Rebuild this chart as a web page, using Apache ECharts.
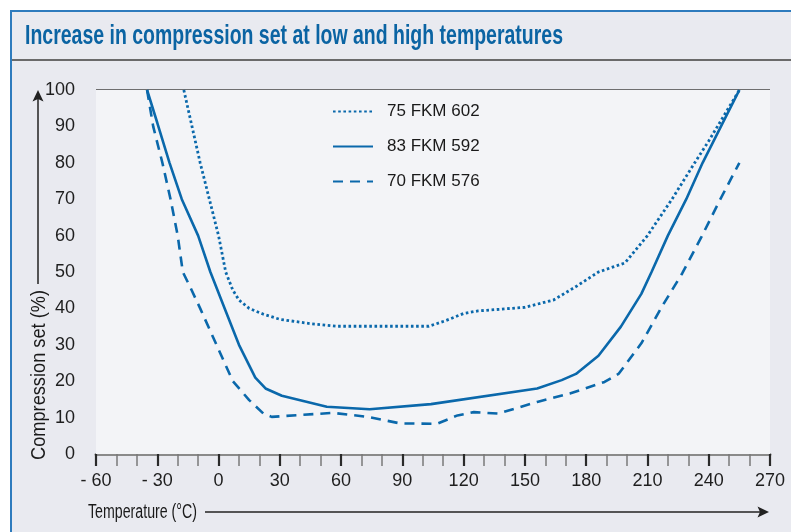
<!DOCTYPE html>
<html>
<head>
<meta charset="utf-8">
<script src="https://cdn.jsdelivr.net/npm/echarts@6/dist/echarts.min.js"></script>
<style>
@font-face { font-family: 'NarrowX'; font-weight: 400;
  src: local('Liberation Sans Narrow'), local('LiberationSansNarrow-Regular'), local('DejaVu Sans Condensed'), local('DejaVuSansCondensed'), local('Open Sans Condensed'), local('Roboto Condensed'); }
@font-face { font-family: 'NarrowX'; font-weight: 700;
  src: local('Liberation Sans Narrow Bold'), local('LiberationSansNarrow-Bold'), local('DejaVu Sans Condensed Bold'), local('DejaVuSansCondensed-Bold'); }
html,body{margin:0;padding:0;background:#fff;}
#c{width:791px;height:532px;}
</style>
</head>
<body>
<div id="c"></div>
<script>
// ---- data ----
const seriesNames = ['75 FKM 602', '83 FKM 592', '70 FKM 576'];
const fkm602 = [[-17,100],[-13,90],[-9,80],[-4.5,70],[0,60],[3.5,50],[7,45],[10,42.3],[15,40],[22,38.4],[30,37],[45,35.8],[58,35.1],[103,35.1],[111,36.6],[120,38.6],[127,39.3],[150,40.3],[164,42.3],[175,46],[186,50],[199,52.5],[210,60],[222,70],[232,79],[240,86],[255,100]];
const fkm592 = [[-35,100],[-30,91],[-24,80],[-18,70],[-10,60],[-4,50],[3,40],[10,30],[18,21],[23,18],[31,16],[53,13],[74,12.3],[104,13.7],[156,18],[168,20.3],[175,22],[186,27],[197,35],[207,44],[212,50],[220,60],[229,70],[237,80],[246,90],[255,100]];
const fkm576 = [[-35,100],[-32,90],[-27.5,80],[-23.5,70],[-20,60],[-17.5,50],[-14,46],[-9,40],[-1,30],[7,20],[15,14.8],[22,11.1],[26,10.2],[56,11.3],[73,10.2],[89,8.4],[107,8.3],[117,10.6],[125,11.5],[137,11.1],[156,14.3],[172,16.6],[189,19.8],[196,22.1],[207,30.4],[217,40.4],[227,49.6],[236.5,59.7],[245.5,69.8],[255,80]];
const xTicks = { min: -60, max: 270, step: 30 };
const yTicks = { min: 0, max: 100, step: 10 };
const titleText = 'Increase in compression set at low and high temperatures';
const xName = 'Temperature (°C)';
const yName = 'Compression set (%)';

function draw() {
  const cv = document.createElement('canvas').getContext('2d');
  function measure(text, font) { cv.font = font; return cv.measureText(text).width; }
  const narrowOK = measure('1000000000', "20px NarrowX, monospace") < measure('1000000000', "20px 'Liberation Sans'") * 0.92;
  const NARROW = narrowOK ? "NarrowX, 'Liberation Sans', sans-serif" : "'Liberation Sans', sans-serif";
  const labelSize = narrowOK ? 20 : 18;
  const BLUE = '#0a68ab';

  const titleFont = "bold 28px " + NARROW;
  const titleScale = 538 / measure(titleText, titleFont);
  const yNameFont = "20px " + NARROW;
  const yNameScale = 170 / measure(yName, yNameFont);
  const xNameFont = "20px " + NARROW;
  const xNameScale = 109 / measure(xName, xNameFont);

  const chart = echarts.init(document.getElementById('c'), null, { renderer: 'canvas' });
  const lineBase = { type: 'line', symbol: 'none', showSymbol: false, smooth: false, color: BLUE, z: 5 };
  chart.setOption({
    backgroundColor: '#ffffff',
    animation: false,
    grid: { left: 96, right: 21, top: 90, bottom: 78, show: true, backgroundColor: '#f3f4f7', borderWidth: 0, z: 1 },
    legend: {
      orient: 'vertical', left: 332, top: 103, itemWidth: 40, itemHeight: 14, itemGap: 18, padding: 0,
      itemStyle: { opacity: 0 },
      textStyle: { fontFamily: NARROW, fontSize: labelSize - 1, color: '#1a1a1a', padding: [0, 0, 0, 9] },
      data: seriesNames
    },
    xAxis: {
      type: 'value', min: xTicks.min, max: xTicks.max, interval: xTicks.step,
      axisLine: { show: true, lineStyle: { color: '#8a8a8a', width: 3 } },
      axisTick: { show: true, length: 12, lineStyle: { color: '#2a2a2a', width: 2.2 } },
      minorTick: { show: true, splitNumber: 3, length: 12, lineStyle: { color: '#7a7a7a', width: 1.5 } },
      splitLine: { show: false },
      axisLabel: {
        margin: 18, fontFamily: NARROW, fontSize: labelSize, color: '#1e1e1e',
        formatter: v => v < 0 ? '- ' + Math.abs(v) : String(v)
      }
    },
    yAxis: {
      type: 'value', min: yTicks.min, max: yTicks.max, interval: yTicks.step,
      axisLine: { show: false }, axisTick: { show: false },
      splitLine: { show: true, lineStyle: { color: '#454545', width: 1.5 } },
      axisLabel: { margin: 21, fontFamily: NARROW, fontSize: labelSize, color: '#1e1e1e' }
    },
    series: [
      Object.assign({}, lineBase, { name: seriesNames[0], data: fkm602, lineStyle: { width: 2.8, type: [2.6, 2.6], cap: 'butt' } }),
      Object.assign({}, lineBase, { name: seriesNames[1], data: fkm592, lineStyle: { width: 2.6, type: 'solid' } }),
      Object.assign({}, lineBase, { name: seriesNames[2], data: fkm576, lineStyle: { width: 2.6, type: [10, 7] } })
    ],
    graphic: [
      { type: 'rect', z: -10, silent: true, shape: { x: 11, y: 11, width: 800, height: 540 },
        style: { fill: '#e9eaf0', stroke: '#2e7bbd', lineWidth: 2 } },
      { type: 'line', z: 10, silent: true, shape: { x1: 12, y1: 60, x2: 791, y2: 60 },
        style: { stroke: '#6a6a6a', lineWidth: 2.2 } },
      { type: 'text', z: 10, silent: true, x: 25, y: 36, scaleX: titleScale,
        style: { text: titleText, font: titleFont, fill: '#0b64a3', align: 'left', verticalAlign: 'middle' } },
      { type: 'text', z: 10, silent: true, x: 39, y: 460, rotation: Math.PI / 2, scaleX: yNameScale,
        style: { text: yName, font: yNameFont, fill: '#1a1a1a', align: 'left', verticalAlign: 'middle' } },
      { type: 'line', z: 10, silent: true, shape: { x1: 38, y1: 284, x2: 38, y2: 98 },
        style: { stroke: '#222', lineWidth: 1.5 } },
      { type: 'polygon', z: 10, silent: true, shape: { points: [[38, 90], [32.5, 101.5], [38, 99], [43.5, 101.5]] },
        style: { fill: '#222' } },
      { type: 'text', z: 10, silent: true, x: 88, y: 512, scaleX: xNameScale,
        style: { text: xName, font: xNameFont, fill: '#1a1a1a', align: 'left', verticalAlign: 'middle' } },
      { type: 'line', z: 10, silent: true, shape: { x1: 205, y1: 512, x2: 760, y2: 512 },
        style: { stroke: '#222', lineWidth: 1.5 } },
      { type: 'polygon', z: 10, silent: true, shape: { points: [[769, 512], [757.5, 506.5], [760, 512], [757.5, 517.5]] },
        style: { fill: '#222' } }
    ]
  });
}

let done = false;
function go() { if (!done) { done = true; draw(); } }
if (document.fonts && document.fonts.load) {
  Promise.all([document.fonts.load("20px NarrowX"), document.fonts.load("bold 20px NarrowX")]).then(go, go);
  setTimeout(go, 1500);
} else { go(); }
</script>
</body>
</html>
